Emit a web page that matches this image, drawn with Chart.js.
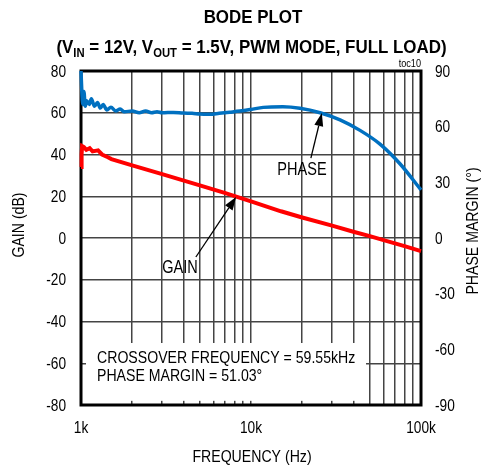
<!DOCTYPE html>
<html>
<head>
<meta charset="utf-8">
<script src="https://cdn.jsdelivr.net/npm/chart.js@4.4.1/dist/chart.umd.min.js"></script>
<style>
  html, body { margin: 0; padding: 0; background: #fff; }
  #wrap { width: 487px; height: 469px; }
</style>
</head>
<body>
<div id="wrap"><canvas id="bode" width="487" height="469"></canvas></div>
<script>
const FONT = "'Liberation Sans', Arial, sans-serif";
const NARROW = 0.83; // the original uses a condensed face, squeeze Liberation Sans to match

// gain curve (Hz, dB)
const gainFreq = [1000, 1008, 1015, 1040, 1075, 1125, 1170, 1260, 1330, 1440, 1510, 2000, 3000, 5000, 7000, 10000, 15000, 20000, 30000, 40000, 50000, 59550, 80000, 100000];
const gainDb = [34, 40, 44, 43.5, 42.2, 43, 41.5, 42, 40, 38.7, 37.8, 34.8, 30.6, 25.2, 21.6, 17.5, 12.8, 9.8, 5.9, 3.0, 0.9, -0.9, -3.9, -6.3];

// phase margin curve (Hz, degrees)
const phaseFreq = [1000, 1010, 1025, 1040, 1060, 1080, 1120, 1150, 1200, 1250, 1300, 1350, 1420, 1500, 1600, 1700, 1800, 2000, 2200, 2400, 2600, 2800, 3000, 3500, 4000, 4500, 5000, 5700, 6500, 7500, 8600, 10000, 11800, 15400, 19400, 25500, 33400, 43800, 57400, 75200, 100000];
const phaseDeg = [90, 80, 72, 79, 71, 74, 72, 75, 71, 73, 70, 72, 69, 70.5, 68.5, 69.5, 68, 68.5, 67.5, 68.5, 67.5, 68, 67.5, 67.7, 67.3, 67.2, 66.8, 66.7, 67.2, 67.8, 68.4, 69.3, 70.4, 70.7, 69.9, 67.5, 63.7, 58.0, 50.6, 40.0, 25.9];

// axes
const freqTicks = [1000, 2000, 3000, 4000, 5000, 6000, 7000, 8000, 9000, 10000, 20000, 30000, 40000, 50000, 60000, 70000, 80000, 90000, 100000];
const freqLabels = { 1000: "1k", 10000: "10k", 100000: "100k" };
const gainRange = [-80, 80, 20];
const phaseRange = [-90, 90, 30];

const crossover = "CROSSOVER FREQUENCY = 59.55kHz";
const margin = "PHASE MARGIN = 51.03°";

const toPoints = (xs, ys) => xs.map((x, i) => ({ x: x, y: ys[i] }));

// fillText squeezed horizontally
const narrowText = (ctx, text, x, y, font, align, baseline, rotate, sx) => {
  ctx.save();
  ctx.translate(x, y);
  if (rotate) ctx.rotate(rotate);
  ctx.scale(sx || NARROW, 1);
  ctx.font = font;
  ctx.textAlign = align || "left";
  ctx.textBaseline = baseline || "alphabetic";
  ctx.fillStyle = "#000";
  ctx.fillText(text, 0, 0);
  ctx.restore();
};

const drawArrow = (ctx, x0, y0, x1, y1) => {
  const ang = Math.atan2(y1 - y0, x1 - x0);
  const len = 13, half = 4.5;
  ctx.strokeStyle = "#000";
  ctx.lineWidth = 1.3;
  ctx.beginPath();
  ctx.moveTo(x0, y0);
  ctx.lineTo(x1 - Math.cos(ang) * len, y1 - Math.sin(ang) * len);
  ctx.stroke();
  ctx.fillStyle = "#000";
  ctx.beginPath();
  ctx.moveTo(x1, y1);
  ctx.lineTo(x1 - Math.cos(ang) * len - Math.sin(ang) * half, y1 - Math.sin(ang) * len + Math.cos(ang) * half);
  ctx.lineTo(x1 - Math.cos(ang) * len + Math.sin(ang) * half, y1 - Math.sin(ang) * len - Math.cos(ang) * half);
  ctx.closePath();
  ctx.fill();
};

// title pieces, [text, isSubscript]
const drawRich = (ctx, parts, cx, baseline, size, subSize, sx) => {
  const fontMain = "bold " + size + "px " + FONT;
  const fontSub = "bold " + subSize + "px " + FONT;
  let total = 0;
  parts.forEach(p => {
    ctx.font = p[1] ? fontSub : fontMain;
    total += ctx.measureText(p[0]).width * sx;
  });
  let x = cx - total / 2;
  parts.forEach(p => {
    const f = p[1] ? fontSub : fontMain;
    narrowText(ctx, p[0], x, baseline + (p[1] ? 4 : 0), f, "left", "alphabetic", 0, sx);
    ctx.font = f;
    x += ctx.measureText(p[0]).width * sx;
  });
};

const bodeDecor = {
  id: "bodeDecor",
  beforeDatasetsDraw(chart) {
    const { ctx, chartArea: a, scales } = chart;
    ctx.save();
    // white panel behind the crossover text
    const bx0 = a.left + 5;
    const bx1 = scales.x.getPixelForValue(47500);
    const by0 = scales.y.getPixelForValue(-50.3);
    const by1 = scales.y.getPixelForValue(-78);
    ctx.fillStyle = "#fff";
    ctx.fillRect(bx0, by0, bx1 - bx0, by1 - by0);
    // frame
    ctx.strokeStyle = "#000";
    ctx.lineWidth = 3;
    ctx.strokeRect(a.left, a.top, a.right - a.left, a.bottom - a.top);
    ctx.restore();
  },
  afterDraw(chart) {
    const { ctx, chartArea: a, scales } = chart;
    const x = scales.x, y = scales.y, y2 = scales.y2;
    const f17 = "17px " + FONT;
    const fTick = "16.5px " + FONT;

    // title
    drawRich(ctx, [["BODE PLOT", false]], 253, 23, 18, 12, 0.94);
    drawRich(ctx, [["(V", false], ["IN", true], [" = 12V, V", false], ["OUT", true], [" = 1.5V, PWM MODE, FULL LOAD)", false]], 251.5, 53, 18, 12, 0.94);
    narrowText(ctx, "toc10", a.right, a.top - 4, "11px " + FONT, "right");

    // tick labels from the scales
    y.ticks.forEach(t => {
      narrowText(ctx, String(t.value), a.left - 15, y.getPixelForValue(t.value) + 1, fTick, "right", "middle");
    });
    y2.ticks.forEach(t => {
      narrowText(ctx, String(t.value), a.right + 14, y2.getPixelForValue(t.value) + 1, fTick, "left", "middle");
    });
    x.ticks.forEach(t => {
      const lab = freqLabels[t.value];
      if (lab) narrowText(ctx, lab, x.getPixelForValue(t.value), a.bottom + 23, fTick, "center", "middle");
    });

    // axis titles
    const midY = (a.top + a.bottom) / 2;
    narrowText(ctx, "FREQUENCY (Hz)", (a.left + a.right) / 2 + 1, 457, f17, "center", "middle");
    narrowText(ctx, "GAIN (dB)", 19, midY - 13, f17, "center", "middle", -Math.PI / 2);
    narrowText(ctx, "PHASE MARGIN (°)", 473, midY - 7, f17, "center", "middle", -Math.PI / 2);

    // box text
    narrowText(ctx, crossover, a.left + 16, y.getPixelForValue(-60), f17);
    narrowText(ctx, margin, a.left + 16, y.getPixelForValue(-68.7), f17);

    // GAIN label + arrow
    narrowText(ctx, "GAIN", x.getPixelForValue(3820), y.getPixelForValue(-16.8), "17.5px " + FONT, "center");
    drawArrow(ctx, x.getPixelForValue(4740), y.getPixelForValue(-9.1), x.getPixelForValue(8170), y.getPixelForValue(19.6));

    // PHASE label + arrow
    narrowText(ctx, "PHASE", x.getPixelForValue(19950), y2.getPixelForValue(34), "17.5px " + FONT, "center");
    drawArrow(ctx, x.getPixelForValue(22500), y2.getPixelForValue(43), x.getPixelForValue(26100), y2.getPixelForValue(67.3));
  }
};

new Chart(document.getElementById("bode"), {
  type: "line",
  data: {
    datasets: [
      {
        label: "GAIN",
        data: toPoints(gainFreq, gainDb),
        borderColor: "#ff0000",
        borderWidth: 4,
        pointRadius: 0,
        tension: 0,
        yAxisID: "y",
        clip: 5
      },
      {
        label: "PHASE",
        data: toPoints(phaseFreq, phaseDeg),
        borderColor: "#0070c0",
        borderWidth: 3.5,
        pointRadius: 0,
        cubicInterpolationMode: "monotone",
        yAxisID: "y2",
        clip: 5
      }
    ]
  },
  options: {
    responsive: false,
    animation: false,
    devicePixelRatio: 1,
    layout: { padding: { top: 71, left: 0, right: 0, bottom: 0 } },
    plugins: {
      legend: { display: false },
      tooltip: { enabled: false }
    },
    scales: {
      x: {
        type: "logarithmic",
        min: 1000,
        max: 100000,
        afterBuildTicks: (scale) => {
          scale.ticks = freqTicks.map(v => ({ value: v }));
        },
        afterFit: (scale) => { scale.height = 64; },
        grid: { color: "#444", lineWidth: 1.5, drawTicks: false },
        border: { display: false },
        ticks: { display: false, autoSkip: false, maxRotation: 0 }
      },
      y: {
        position: "left",
        min: gainRange[0],
        max: gainRange[1],
        afterFit: (scale) => { scale.width = 81; },
        grid: { color: "#444", lineWidth: 1.5, drawTicks: false },
        border: { display: false },
        ticks: { display: false, stepSize: gainRange[2] }
      },
      y2: {
        position: "right",
        min: phaseRange[0],
        max: phaseRange[1],
        afterFit: (scale) => { scale.width = 66; },
        grid: { display: false, drawTicks: false },
        border: { display: false },
        ticks: { display: false, stepSize: phaseRange[2] }
      }
    }
  },
  plugins: [bodeDecor]
});
</script>
</body>
</html>
